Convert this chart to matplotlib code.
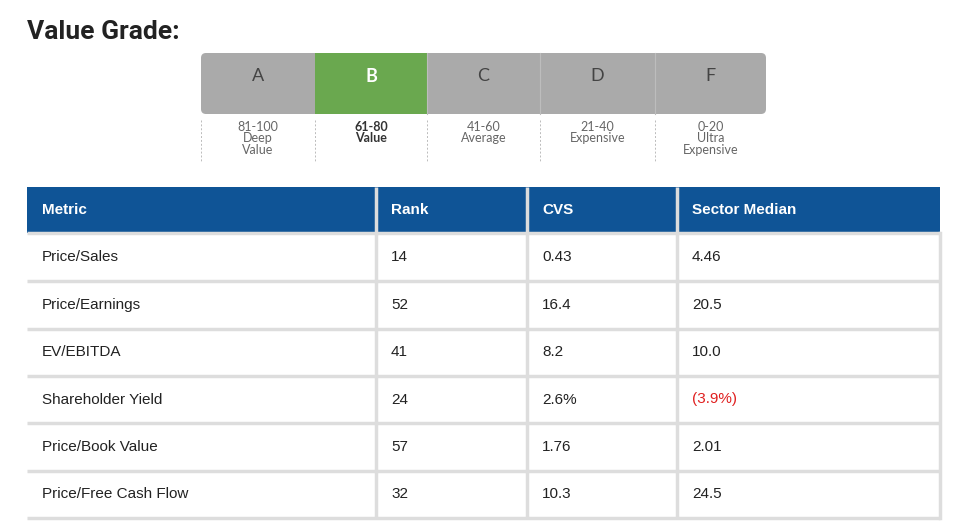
import matplotlib.pyplot as plt
from matplotlib.patches import FancyBboxPatch, Rectangle

grades = ['A', 'B', 'C', 'D', 'F']
grade_ranges = ['81-100\nDeep\nValue', '61-80\nValue', '41-60\nAverage', '21-40\nExpensive', '0-20\nUltra\nExpensive']
current = 'B'

columns = ['Metric', 'Rank', 'CVS', 'Sector Median']
metrics = ['Price/Sales', 'Price/Earnings', 'EV/EBITDA', 'Shareholder Yield', 'Price/Book Value', 'Price/Free Cash Flow']
ranks = ['14', '52', '41', '24', '57', '32']
cvs = ['0.43', '16.4', '8.2', '2.6%', '1.76', '10.3']
sector_median = ['4.46', '20.5', '10.0', '(3.9%)', '2.01', '24.5']

fig = plt.figure(figsize=(9.58, 5.22), dpi=100)
ax = fig.add_axes([0, 0, 1, 1])
ax.set_xlim(0, 958)
ax.set_ylim(522, 0)
ax.axis('off')

ax.text(27, 32, 'Value Grade:', fontsize=19, fontweight='bold', family='Roboto',
        color='#222222', va='center', ha='left')

# grade bar
edges = [201, 315, 427, 540, 655, 766]
top, bot = 53, 114
ax.add_patch(FancyBboxPatch((edges[0], top), edges[-1] - edges[0], bot - top,
                            boxstyle='round,pad=0,rounding_size=5', fc='#aaaaaa', ec='none'))
for i, g in enumerate(grades):
    x0, x1 = edges[i], edges[i + 1]
    if g == current:
        ax.add_patch(Rectangle((x0, top), x1 - x0, bot - top, fc='#6aa84f', ec='none'))
    elif i > 0:
        ax.plot([x0, x0], [top, bot], color='#bdbdbd', lw=0.8)
    cx = (x0 + x1) / 2
    ax.text(cx, 76, g, fontsize=13, family='Lato', ha='center', va='center',
            color='white' if g == current else '#444444',
            fontweight='bold' if g == current else 'normal')
    ax.plot([x0, x0], [120, 162], color='#bbbbbb', lw=0.7, ls=(0, (2, 2)))
    ax.text(cx, 121, grade_ranges[i], fontsize=9, family='Lato', ha='center', va='top',
            color='#333333' if g == current else '#666666', linespacing=0.95,
            fontweight='bold' if g == current else 'normal')

# table
cols = [27, 376, 527, 677, 940]
rows = [187, 233, 281, 329, 376, 423, 471, 518]
ax.add_patch(Rectangle((cols[0], rows[0]), cols[-1] - cols[0], rows[1] - rows[0], fc='#0f5496', ec='none'))
for i, c in enumerate(columns):
    ax.text(cols[i] + 15, (rows[0] + rows[1]) / 2, c, fontsize=11, fontweight='bold',
            family='Liberation Sans', color='white', va='center')
for y in rows[1:]:
    ax.plot([cols[0], cols[-1]], [y, y], color='#dddddd', lw=2.5, solid_capstyle='butt')
for x in cols[1:-1]:
    ax.plot([x, x], [rows[0], rows[-1]], color='#dddddd', lw=2.5, solid_capstyle='butt')
ax.plot([cols[-1], cols[-1]], [rows[1], rows[-1]], color='#dddddd', lw=2.5)
for r in range(len(metrics)):
    yc = (rows[r + 1] + rows[r + 2]) / 2
    vals = [metrics[r], ranks[r], cvs[r], sector_median[r]]
    for i, v in enumerate(vals):
        color = '#e02020' if v.startswith('(') else '#222222'
        ax.text(cols[i] + 15, yc, v, fontsize=11, family='Liberation Sans', color=color, va='center')

fig.savefig('out.png', dpi=100)
